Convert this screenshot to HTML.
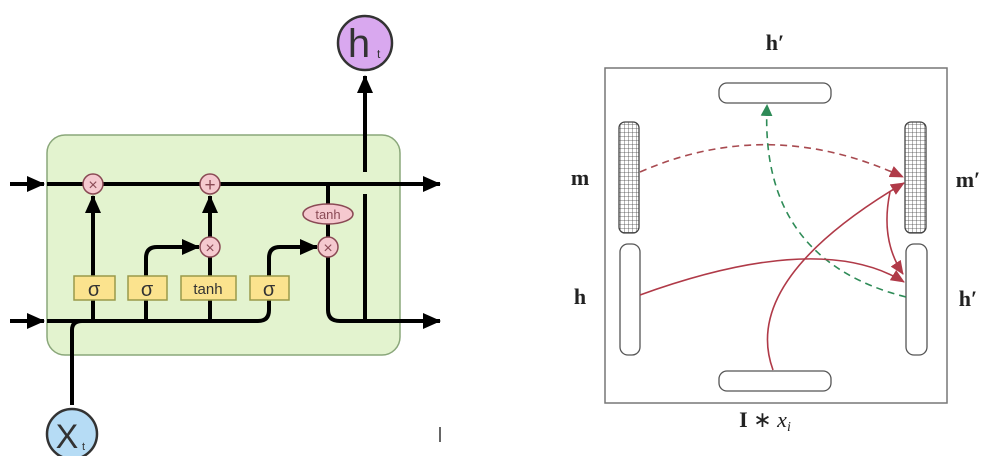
<!DOCTYPE html>
<html><head><style>
html,body{margin:0;padding:0;background:#fff;width:993px;height:456px;overflow:hidden}
</style></head><body>
<svg width="993" height="456" viewBox="0 0 993 456" xmlns="http://www.w3.org/2000/svg">
<defs>
<marker id="ab" markerWidth="18" markerHeight="18" refX="17" refY="8" orient="auto" markerUnits="userSpaceOnUse">
<path d="M0,0 L18,8 L0,16 z" fill="#000"/></marker>
<marker id="ar" markerWidth="14" markerHeight="12" refX="13" refY="6" orient="auto" markerUnits="userSpaceOnUse">
<path d="M0,0 L14,6 L0,12 z" fill="#b03a48"/></marker>
<marker id="ag" markerWidth="12" markerHeight="12" refX="10" refY="6" orient="auto" markerUnits="userSpaceOnUse">
<path d="M0,0 L12,6 L0,12 z" fill="#2e8b57"/></marker>
<pattern id="grid" width="4" height="4" patternUnits="userSpaceOnUse">
<rect width="4" height="4" fill="#fff"/><path d="M0,0 H4 M0,0 V4" stroke="#444" stroke-width="0.8"/></pattern>
</defs>
<!-- LEFT LSTM -->
<rect x="47" y="135" width="353" height="220" rx="18" fill="#e3f3cf" stroke="#8aa77a" stroke-width="1.5"/>
<g stroke="#000" stroke-width="4" fill="none">
<line x1="10" y1="184" x2="44" y2="184" marker-end="url(#ab)"/>
<line x1="47" y1="184" x2="440" y2="184" marker-end="url(#ab)"/>
<line x1="10" y1="321" x2="44" y2="321" marker-end="url(#ab)"/>
<path d="M47,321 H258 Q269,321 269,310 V258 Q269,247 280,247 H317" marker-end="url(#ab)"/>
<path d="M72,405 V330 Q72,321 82,321"/>
<line x1="93" y1="321" x2="93" y2="196" marker-end="url(#ab)"/>
<path d="M146,321 V258 Q146,247 157,247 H199" marker-end="url(#ab)"/>
<line x1="210" y1="321" x2="210" y2="257"/>
<line x1="210" y1="237" x2="210" y2="196" marker-end="url(#ab)"/>
<line x1="328" y1="184" x2="328" y2="205"/>
<line x1="328" y1="224" x2="328" y2="237"/>
<path d="M328,257 V310 Q328,321 340,321 H440" marker-end="url(#ab)"/>
<line x1="365" y1="321" x2="365" y2="194"/>
<line x1="365" y1="172" x2="365" y2="76" marker-end="url(#ab)"/>
</g>
<g fill="#fbe38e" stroke="#9a9a4a" stroke-width="1.5">
<rect x="74" y="276" width="41" height="24"/><rect x="128" y="276" width="39" height="24"/>
<rect x="181" y="276" width="55" height="24"/><rect x="250" y="276" width="39" height="24"/>
</g>
<g font-family="Liberation Sans, sans-serif" fill="#333" text-anchor="middle">
<text x="94" y="296" font-size="20">σ</text><text x="147" y="296" font-size="20">σ</text>
<text x="208" y="294" font-size="15">tanh</text><text x="269" y="296" font-size="20">σ</text>
</g>
<g fill="#f5c9cf" stroke="#8a4a55" stroke-width="1.5">
<circle cx="93" cy="184" r="10"/><circle cx="210" cy="184" r="10"/>
<circle cx="210" cy="247" r="10"/><circle cx="328" cy="247" r="10"/>
<ellipse cx="328" cy="214" rx="25" ry="10"/>
</g>
<g font-family="Liberation Sans, sans-serif" fill="#8a4a55" text-anchor="middle">
<text x="93" y="190" font-size="16">×</text><text x="210" y="191" font-size="19">+</text>
<text x="210" y="253" font-size="16">×</text><text x="328" y="253" font-size="16">×</text>
<text x="328" y="219" font-size="13">tanh</text>
</g>
<circle cx="365" cy="43" r="27" fill="#d9a8ef" stroke="#333" stroke-width="2.5"/>
<text x="359" y="57" font-family="Liberation Sans, sans-serif" font-size="40" fill="#333" text-anchor="middle">h</text>
<text x="377" y="58" font-family="Liberation Sans, sans-serif" font-size="12" fill="#333">t</text>
<circle cx="72" cy="434" r="25" fill="#b6dcf5" stroke="#333" stroke-width="2.5"/>
<text x="67" y="448" font-family="Liberation Sans, sans-serif" font-size="34" fill="#333" text-anchor="middle">X</text>
<text x="82" y="450" font-family="Liberation Sans, sans-serif" font-size="11" fill="#333">t</text>
<line x1="440" y1="427" x2="440" y2="442" stroke="#333" stroke-width="1.5"/>
<!-- RIGHT -->
<rect x="605" y="68" width="342" height="335" fill="none" stroke="#777" stroke-width="1.5"/>
<g fill="#fff" stroke="#555" stroke-width="1.3">
<rect x="719" y="83" width="112" height="20" rx="8"/>
<rect x="719" y="371" width="112" height="20" rx="8"/>
<rect x="620" y="244" width="20" height="111" rx="8"/>
<rect x="906" y="244" width="21" height="111" rx="8"/>
</g>
<g fill="url(#grid)" stroke="#444" stroke-width="1.3">
<rect x="619" y="122" width="20" height="111" rx="6"/>
<rect x="905" y="122" width="21" height="111" rx="6"/>
</g>
<g fill="none" stroke-width="1.6">
<path d="M640,172 Q770,115 903,177" stroke="#a84a50" stroke-dasharray="7,5" marker-end="url(#ar)"/>
<path d="M906,297 Q760,260 767,106" stroke="#2e8b57" stroke-dasharray="7,5" marker-end="url(#ag)"/>
<path d="M640,295 Q820,230 904,282" stroke="#b03a48" marker-end="url(#ar)"/>
<path d="M773,370 Q740,280 904,183" stroke="#b03a48" marker-end="url(#ar)"/>
<path d="M890,192 Q880,240 903,274" stroke="#b03a48" marker-end="url(#ar)"/>
</g>
<g font-family="Liberation Serif, serif" font-weight="bold" font-size="22" fill="#222" text-anchor="middle">
<text x="775" y="50">h′</text>
<text x="580" y="185">m</text>
<text x="968" y="187">m′</text>
<text x="580" y="304">h</text>
<text x="968" y="306">h′</text>
<text x="765" y="427">I <tspan font-weight="normal">∗</tspan> <tspan font-style="italic" font-weight="normal">x<tspan font-size="14" dy="4">i</tspan></tspan></text>
</g>
</svg>
</body></html>
